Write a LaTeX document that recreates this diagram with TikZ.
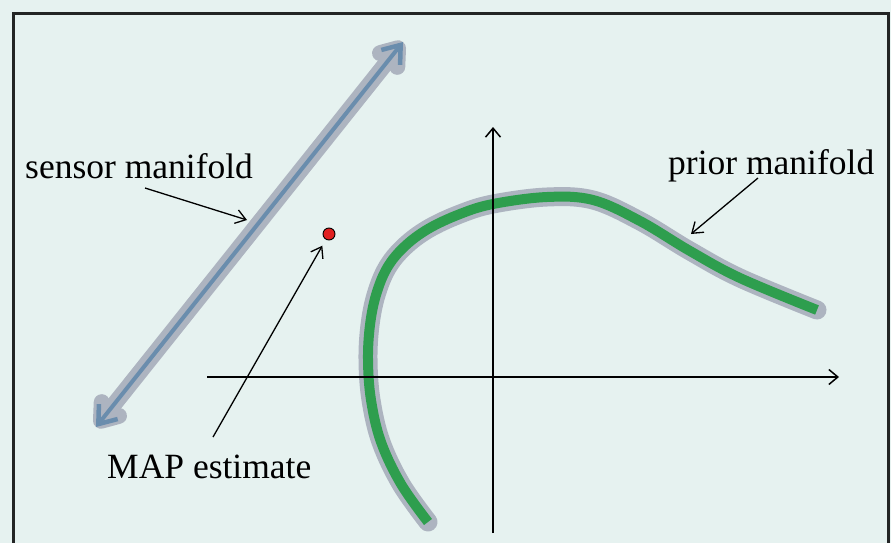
\documentclass[tikz,border=0pt]{standalone}
\usepackage{fontspec}
\setmainfont{Liberation Serif}
\usetikzlibrary{arrows.meta,calc}
\definecolor{bgc}{HTML}{E6F2F0}
\definecolor{framec}{HTML}{232525}
\definecolor{haloc}{HTML}{ADB4C0}
\definecolor{greenc}{HTML}{2E9E4E}
\definecolor{bluec}{HTML}{6A8DAD}
\definecolor{dotc}{HTML}{E02020}
\tikzset{
  lbl/.style={anchor=base west, inner sep=0pt, font=\fontsize{35.5}{40}\selectfont},
  pointer/.style={line width=1.3pt, -{Straight Barb[length=10pt,width=14pt,line width=1.3pt]}},
  axis/.style={line width=1.5pt, -{Straight Barb[length=9pt,width=15pt,line width=1.5pt]}},
  halo/.style={draw=haloc, line width=19pt, line cap=round, line join=round},
  priorline/.style={draw=greenc, line width=10pt, line cap=butt, line join=round},
  sensorhalo/.style={draw=haloc, line width=16pt, line cap=round, line join=round,
     {Straight Barb[length=15pt,width=22pt,line width=16pt, round]}-{Straight Barb[length=15pt,width=22pt,line width=16pt, round]}},
  sensorline/.style={draw=bluec, line width=4pt,
     {Straight Barb[length=16pt,width=24pt,line width=4.5pt]}-{Straight Barb[length=16pt,width=24pt,line width=4.5pt]}},
  mapdot/.style={circle, draw=black, fill=dotc, line width=0.9pt, minimum size=12pt, inner sep=0pt}
}
\begin{document}
\begin{tikzpicture}[x=1pt,y=-1pt]
\useasboundingbox (0,0) rectangle (891,543);
\fill[bgc] (0,0) rectangle (891,543);
\draw[framec, line width=3pt] (13.5,570) -- (13.5,13.5) -- (888,13.5) -- (888,570);

% sensor manifold
\coordinate (s1) at (96,427);
\coordinate (s2) at (403,42);
\draw[sensorhalo] (s1) -- (s2);
\draw[sensorline] (s1) -- (s2);

% axes
\coordinate (xl) at (207,377);
\coordinate (xr) at (839,377);
\coordinate (yb) at (493,533);
\coordinate (yt) at (493,127);

% prior manifold
\def\priorpath{plot[smooth, tension=0.6] coordinates {(428,522) (401,484) (381,442) (371,400) (368,360) (370,325) (376,295) (387,268) (404,247) (428,229) (460,214) (493,204) (547,197) (593,200) (640,221) (690,251) (740,278) (817,310)}}
\draw[halo] \priorpath;
\draw[priorline] \priorpath;

\draw[axis] (xl) -- (xr);
\draw[axis] (yb) -- (yt);

% labels
\node[lbl] (sensor) at (25,178) {sensor manifold};
\node[lbl] (prior) at (668,174) {prior manifold};
\node[lbl] (map) at (107,478) {MAP estimate};
\node[mapdot] (dot) at (329,234) {};

\coordinate (sa) at (145,188);
\coordinate (se) at (247,220);
\coordinate (pa) at (758,178);
\coordinate (pe) at (691,234);
\coordinate (ma) at (213,437);

\draw[pointer] (sa) -- (se);
\draw[pointer] (pa) -- (pe);
\draw[pointer, shorten >=7pt] (ma) -- (dot);
\end{tikzpicture}
\end{document}
